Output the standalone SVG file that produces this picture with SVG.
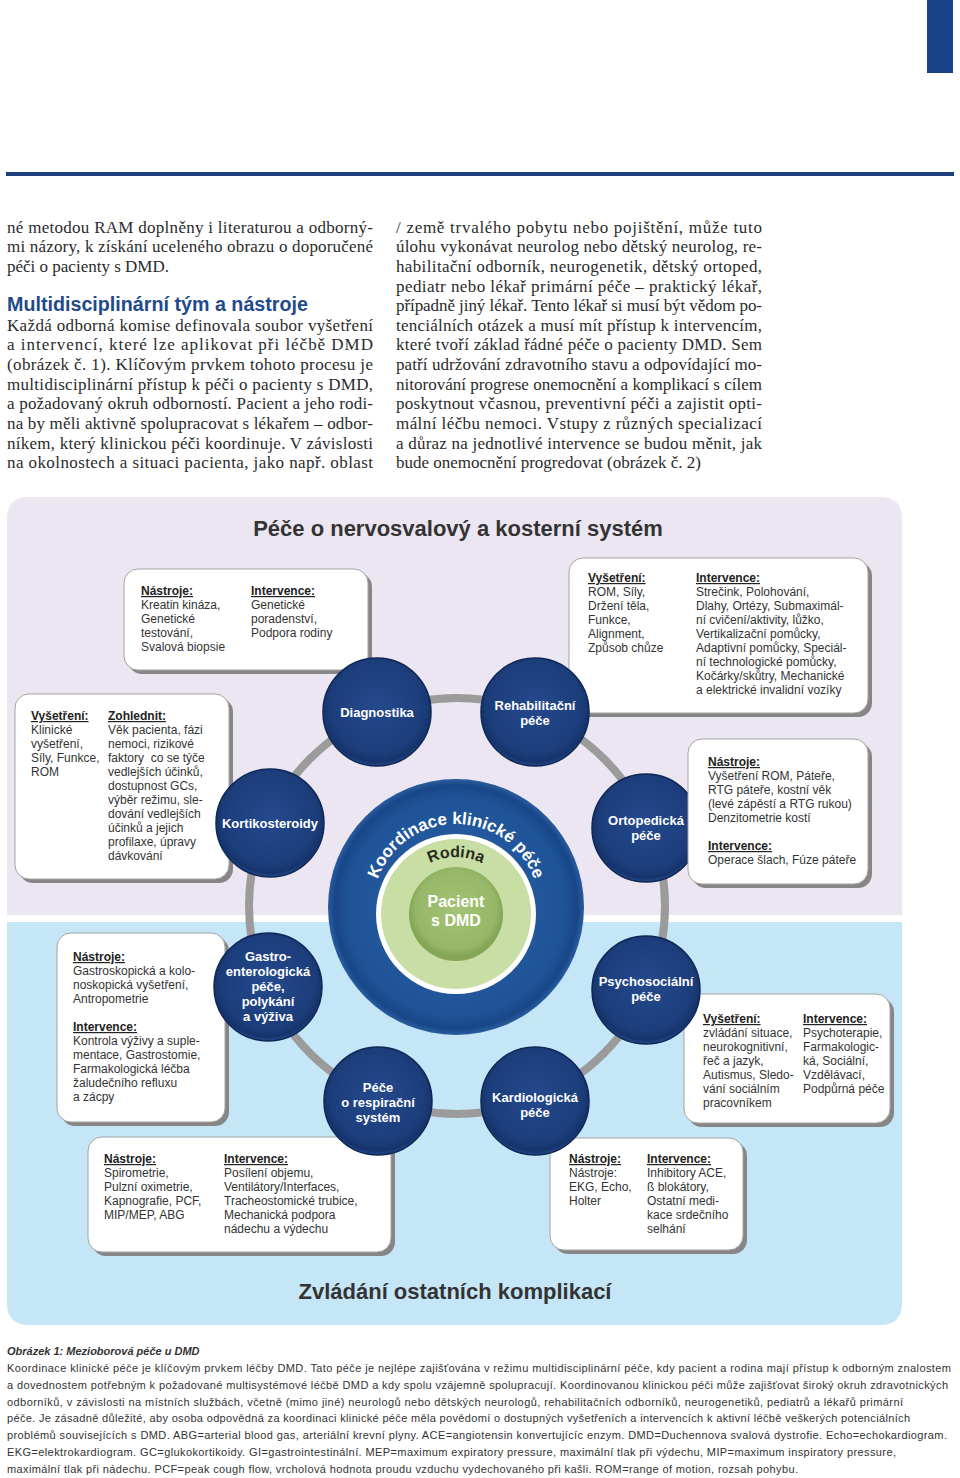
<svg xmlns="http://www.w3.org/2000/svg" width="960" height="1478" viewBox="0 0 960 1478">
<defs>
<style>
.body{font-family:"Liberation Serif",serif;font-size:17px;fill:#2b2b2b}
.hdg{font-family:"Liberation Sans",sans-serif;font-weight:bold;fill:#1f4a8c}
.ttl{font-family:"Liberation Sans",sans-serif;font-weight:bold;font-size:22px;fill:#333;text-anchor:middle}
.bx{fill:#fff;stroke:#a3a3a3;stroke-width:1}
.sh{fill:#868686}
.t{font-family:"Liberation Sans",sans-serif;font-size:12px;fill:#333}
.hd{font-weight:bold;text-decoration:underline;fill:#222}
.ct{font-family:"Liberation Sans",sans-serif;font-weight:bold;font-size:13px;fill:#fff;text-anchor:middle}
.nc{fill:url(#navy);stroke:#0e2756;stroke-width:1.5}
.cap{font-family:"Liberation Sans",sans-serif;font-size:11px;fill:#333}
.ring{fill:none;stroke:#9b9b9b;stroke-width:8}
</style>
<radialGradient id="navy" cx="50%" cy="45%" r="55%">
<stop offset="0" stop-color="#24498d"/>
<stop offset="0.8" stop-color="#1c3d7a"/>
<stop offset="0.93" stop-color="#15336b"/>
<stop offset="1" stop-color="#244a8a"/>
</radialGradient>
<radialGradient id="bigblue" cx="50%" cy="50%" r="50%">
<stop offset="0" stop-color="#2a62a6"/>
<stop offset="0.85" stop-color="#1f5397"/>
<stop offset="0.95" stop-color="#184788"/>
<stop offset="1" stop-color="#2a5c9e"/>
</radialGradient>
<radialGradient id="pgreen" cx="50%" cy="45%" r="50%">
<stop offset="0" stop-color="#a3c275"/>
<stop offset="0.85" stop-color="#97b768"/>
<stop offset="1" stop-color="#86a657"/>
</radialGradient>
<path id="arcK" d="M 384.1 948.5 A 83 83 0 1 1 527.9 948.5"/>
<path id="arcR" d="M 406.6 942.5 A 57 57 0 1 1 505.4 942.5"/>
</defs>

<rect x="0" y="0" width="960" height="1478" fill="#fff"/>
<rect x="927" y="0" width="26" height="73" fill="#1a4289"/>
<rect x="6" y="172" width="948" height="4" fill="#1f3f7f"/>

<g id="article-text">
<text class="body" x="7" y="232.5" textLength="366" lengthAdjust="spacing">né metodou RAM doplněny i literaturou a odborný-</text>
<text class="body" x="7" y="252.2" textLength="366" lengthAdjust="spacing">mi názory, k získání uceleného obrazu o doporučené</text>
<text class="body" x="7" y="271.8">péči o pacienty s DMD.</text>
<text class="hdg" x="7" y="311" font-size="19.5" textLength="301" lengthAdjust="spacingAndGlyphs">Multidisciplinární tým a nástroje</text>
<text class="body" x="7" y="330.8" textLength="366" lengthAdjust="spacing">Každá odborná komise definovala soubor vyšetření</text>
<text class="body" x="7" y="350.4" textLength="366" lengthAdjust="spacing">a intervencí, které lze aplikovat při léčbě DMD</text>
<text class="body" x="7" y="370.1" textLength="366" lengthAdjust="spacing">(obrázek č. 1). Klíčovým prvkem tohoto procesu je</text>
<text class="body" x="7" y="389.7" textLength="366" lengthAdjust="spacing">multidisciplinární přístup k péči o pacienty s DMD,</text>
<text class="body" x="7" y="409.4" textLength="366" lengthAdjust="spacing">a požadovaný okruh odborností. Pacient a jeho rodi-</text>
<text class="body" x="7" y="429" textLength="366" lengthAdjust="spacing">na by měli aktivně spolupracovat s lékařem – odbor-</text>
<text class="body" x="7" y="448.7" textLength="366" lengthAdjust="spacing">níkem, který klinickou péči koordinuje. V závislosti</text>
<text class="body" x="7" y="468.3" textLength="366" lengthAdjust="spacing">na okolnostech a situaci pacienta, jako např. oblast</text>

<text class="body" x="396" y="232.5" textLength="366" lengthAdjust="spacing">/ země trvalého pobytu nebo pojištění, může tuto</text>
<text class="body" x="396" y="252.2" textLength="366" lengthAdjust="spacing">úlohu vykonávat neurolog nebo dětský neurolog, re-</text>
<text class="body" x="396" y="271.8" textLength="366" lengthAdjust="spacing">habilitační odborník, neurogenetik, dětský ortoped,</text>
<text class="body" x="396" y="291.5" textLength="366" lengthAdjust="spacing">pediatr nebo lékař primární péče – praktický lékař,</text>
<text class="body" x="396" y="311.1" textLength="366" lengthAdjust="spacing">případně jiný lékař. Tento lékař si musí být vědom po-</text>
<text class="body" x="396" y="330.8" textLength="366" lengthAdjust="spacing">tenciálních otázek a musí mít přístup k intervencím,</text>
<text class="body" x="396" y="350.4" textLength="366" lengthAdjust="spacing">které tvoří základ řádné péče o pacienty DMD. Sem</text>
<text class="body" x="396" y="370.1" textLength="366" lengthAdjust="spacing">patří udržování zdravotního stavu a odpovídající mo-</text>
<text class="body" x="396" y="389.7" textLength="366" lengthAdjust="spacing">nitorování progrese onemocnění a komplikací s cílem</text>
<text class="body" x="396" y="409.4" textLength="366" lengthAdjust="spacing">poskytnout včasnou, preventivní péči a zajistit opti-</text>
<text class="body" x="396" y="429" textLength="366" lengthAdjust="spacing">mální léčbu nemoci. Vstupy z různých specializací</text>
<text class="body" x="396" y="448.7" textLength="366" lengthAdjust="spacing">a důraz na jednotlivé intervence se budou měnit, jak</text>
<text class="body" x="396" y="468.3">bude onemocnění progredovat (obrázek č. 2)</text>
</g>

<g id="backgrounds">
<path d="M7 915 V519 Q7 497 29 497 H880 Q902 497 902 519 V915 Z" fill="#ebe6f1"/>
<path d="M7 922 H902 V1303 Q902 1325 880 1325 H29 Q7 1325 7 1303 Z" fill="#c5e6f7"/>
<text class="ttl" x="458" y="536">Péče o nervosvalový a kosterní systém</text>
<text class="ttl" x="455" y="1299">Zvládání ostatních komplikací</text>
</g>

<g id="connectors">
<circle class="ring" cx="457" cy="906" r="208"/>
</g>

<g id="center">
<circle cx="456" cy="907" r="128" fill="url(#bigblue)"/>
<circle cx="456" cy="914" r="80" fill="#fff"/>
<circle cx="456" cy="914" r="75" fill="#c8dea5"/>
<circle cx="456" cy="914" r="47" fill="url(#pgreen)"/>
<text font-family="Liberation Sans, sans-serif" font-weight="bold" font-size="17" fill="#fff" text-anchor="middle"><textPath href="#arcK" startOffset="50%">Koordinace klinické péče</textPath></text>
<text font-family="Liberation Sans, sans-serif" font-weight="bold" font-size="16" fill="#2a2a20" text-anchor="middle"><textPath href="#arcR" startOffset="50%">Rodina</textPath></text>
<text font-family="Liberation Sans, sans-serif" font-weight="bold" font-size="16" fill="#fff" text-anchor="middle" x="456" y="907">Pacient</text>
<text font-family="Liberation Sans, sans-serif" font-weight="bold" font-size="16" fill="#fff" text-anchor="middle" x="456" y="926">s DMD</text>
</g>

<g id="diagnostika">
<rect class="sh" x="128" y="573" width="244" height="101" rx="14"/>
<rect class="bx" x="124" y="569" width="244" height="101" rx="14"/>
<text class="t" x="141" y="595"><tspan class="hd">Nástroje:</tspan><tspan x="141" dy="14">Kreatin kináza,</tspan><tspan x="141" dy="14">Genetické</tspan><tspan x="141" dy="14">testování,</tspan><tspan x="141" dy="14">Svalová biopsie</tspan></text>
<text class="t" x="251" y="595"><tspan class="hd">Intervence:</tspan><tspan x="251" dy="14">Genetické</tspan><tspan x="251" dy="14">poradenství,</tspan><tspan x="251" dy="14">Podpora rodiny</tspan></text>
<circle class="nc" cx="377" cy="712" r="54"/>
<text class="ct" x="377" y="716.5">Diagnostika</text>
</g>

<g id="rehabilitacni-pece">
<rect class="sh" x="573" y="562" width="299" height="155" rx="14"/>
<rect class="bx" x="569" y="558" width="299" height="155" rx="14"/>
<text class="t" x="588" y="582"><tspan class="hd">Vyšetření:</tspan><tspan x="588" dy="14">ROM, Síly,</tspan><tspan x="588" dy="14">Držení těla,</tspan><tspan x="588" dy="14">Funkce,</tspan><tspan x="588" dy="14">Alignment,</tspan><tspan x="588" dy="14">Způsob chůze</tspan></text>
<text class="t" x="696" y="582"><tspan class="hd">Intervence:</tspan><tspan x="696" dy="14">Strečink, Polohování,</tspan><tspan x="696" dy="14">Dlahy, Ortézy, Submaximál-</tspan><tspan x="696" dy="14">ní cvičení/aktivity, lůžko,</tspan><tspan x="696" dy="14">Vertikalizační pomůcky,</tspan><tspan x="696" dy="14">Adaptivní pomůcky, Speciál-</tspan><tspan x="696" dy="14">ní technologické pomůcky,</tspan><tspan x="696" dy="14">Kočárky/skůtry, Mechanické</tspan><tspan x="696" dy="14">a elektrické invalidní vozíky</tspan></text>
<circle class="nc" cx="535" cy="712" r="54"/>
<text class="ct" x="535" y="710">Rehabilitační</text>
<text class="ct" x="535" y="725">péče</text>
</g>

<g id="kortikosteroidy">
<rect class="sh" x="19" y="698" width="214" height="185" rx="14"/>
<rect class="bx" x="15" y="694" width="214" height="185" rx="14"/>
<text class="t" x="31" y="720"><tspan class="hd">Vyšetření:</tspan><tspan x="31" dy="14">Klinické</tspan><tspan x="31" dy="14">vyšetření,</tspan><tspan x="31" dy="14">Síly, Funkce,</tspan><tspan x="31" dy="14">ROM</tspan></text>
<text class="t" x="108" y="720"><tspan class="hd">Zohlednit:</tspan><tspan x="108" dy="14">Věk pacienta, fázi</tspan><tspan x="108" dy="14">nemoci, rizikové</tspan><tspan x="108" dy="14" xml:space="preserve">faktory  co se týče</tspan><tspan x="108" dy="14">vedlejších účinků,</tspan><tspan x="108" dy="14">dostupnost GCs,</tspan><tspan x="108" dy="14">výběr režimu, sle-</tspan><tspan x="108" dy="14">dování vedlejších</tspan><tspan x="108" dy="14">účinků a jejich</tspan><tspan x="108" dy="14">profilaxe, úpravy</tspan><tspan x="108" dy="14">dávkování</tspan></text>
<circle class="nc" cx="270" cy="823" r="54"/>
<text class="ct" x="270" y="827.5">Kortikosteroidy</text>
</g>

<g id="ortopedicka-pece">
<circle class="nc" cx="646" cy="828" r="54"/>
<text class="ct" x="646" y="825">Ortopedická</text>
<text class="ct" x="646" y="840">péče</text>
<rect class="sh" x="692" y="743" width="180" height="145" rx="14"/>
<rect class="bx" x="688" y="739" width="180" height="145" rx="14"/>
<text class="t" x="708" y="766"><tspan class="hd">Nástroje:</tspan><tspan x="708" dy="14">Vyšetření ROM, Páteře,</tspan><tspan x="708" dy="14">RTG páteře, kostní věk</tspan><tspan x="708" dy="14">(levé zápěstí a RTG rukou)</tspan><tspan x="708" dy="14">Denzitometrie kostí</tspan><tspan class="hd" x="708" dy="28">Intervence:</tspan><tspan x="708" dy="14">Operace šlach, Fúze páteře</tspan></text>
</g>

<g id="gastroenterologicka-pece">
<rect class="sh" x="61" y="937" width="168" height="189" rx="14"/>
<rect class="bx" x="57" y="933" width="168" height="189" rx="14"/>
<text class="t" x="73" y="961"><tspan class="hd">Nástroje:</tspan><tspan x="73" dy="14">Gastroskopická a kolo-</tspan><tspan x="73" dy="14">noskopická vyšetření,</tspan><tspan x="73" dy="14">Antropometrie</tspan><tspan class="hd" x="73" dy="28">Intervence:</tspan><tspan x="73" dy="14">Kontrola výživy a suple-</tspan><tspan x="73" dy="14">mentace, Gastrostomie,</tspan><tspan x="73" dy="14">Farmakologická léčba</tspan><tspan x="73" dy="14">žaludečního refluxu</tspan><tspan x="73" dy="14">a zácpy</tspan></text>
<circle class="nc" cx="268" cy="987" r="54"/>
<text class="ct" x="268" y="961">Gastro-</text>
<text class="ct" x="268" y="976">enterologická</text>
<text class="ct" x="268" y="991">péče,</text>
<text class="ct" x="268" y="1006">polykání</text>
<text class="ct" x="268" y="1021">a výživa</text>
</g>

<g id="psychosocialni-pece">
<rect class="sh" x="688" y="998" width="206" height="129" rx="14"/>
<rect class="bx" x="684" y="994" width="206" height="129" rx="14"/>
<text class="t" x="703" y="1023"><tspan class="hd">Vyšetření:</tspan><tspan x="703" dy="14">zvládání situace,</tspan><tspan x="703" dy="14">neurokognitivní,</tspan><tspan x="703" dy="14">řeč a jazyk,</tspan><tspan x="703" dy="14">Autismus, Sledo-</tspan><tspan x="703" dy="14">vání sociálním</tspan><tspan x="703" dy="14">pracovníkem</tspan></text>
<text class="t" x="803" y="1023"><tspan class="hd">Intervence:</tspan><tspan x="803" dy="14">Psychoterapie,</tspan><tspan x="803" dy="14">Farmakologic-</tspan><tspan x="803" dy="14">ká, Sociální,</tspan><tspan x="803" dy="14">Vzdělávací,</tspan><tspan x="803" dy="14">Podpůrná péče</tspan></text>
<circle class="nc" cx="646" cy="990" r="54"/>
<text class="ct" x="646" y="986">Psychosociální</text>
<text class="ct" x="646" y="1001">péče</text>
</g>

<g id="respiracni-system">
<rect class="sh" x="92" y="1141" width="303" height="115" rx="14"/>
<rect class="bx" x="88" y="1137" width="303" height="115" rx="14"/>
<text class="t" x="104" y="1163"><tspan class="hd">Nástroje:</tspan><tspan x="104" dy="14">Spirometrie,</tspan><tspan x="104" dy="14">Pulzní oximetrie,</tspan><tspan x="104" dy="14">Kapnografie, PCF,</tspan><tspan x="104" dy="14">MIP/MEP, ABG</tspan></text>
<text class="t" x="224" y="1163"><tspan class="hd">Intervence:</tspan><tspan x="224" dy="14">Posílení objemu,</tspan><tspan x="224" dy="14">Ventilátory/Interfaces,</tspan><tspan x="224" dy="14">Tracheostomické trubice,</tspan><tspan x="224" dy="14">Mechanická podpora</tspan><tspan x="224" dy="14">nádechu a výdechu</tspan></text>
<circle class="nc" cx="378" cy="1101" r="54"/>
<text class="ct" x="378" y="1092">Péče</text>
<text class="ct" x="378" y="1107">o respirační</text>
<text class="ct" x="378" y="1122">systém</text>
</g>

<g id="kardiologicka-pece">
<rect class="sh" x="554" y="1142" width="193" height="112" rx="14"/>
<rect class="bx" x="550" y="1138" width="193" height="112" rx="14"/>
<text class="t" x="569" y="1163"><tspan class="hd">Nástroje:</tspan><tspan x="569" dy="14">Nástroje:</tspan><tspan x="569" dy="14">EKG, Echo,</tspan><tspan x="569" dy="14">Holter</tspan></text>
<text class="t" x="647" y="1163"><tspan class="hd">Intervence:</tspan><tspan x="647" dy="14">Inhibitory ACE,</tspan><tspan x="647" dy="14">ß blokátory,</tspan><tspan x="647" dy="14">Ostatní medi-</tspan><tspan x="647" dy="14">kace srdečního</tspan><tspan x="647" dy="14">selhání</tspan></text>
<circle class="nc" cx="535" cy="1101" r="54"/>
<text class="ct" x="535" y="1102">Kardiologická</text>
<text class="ct" x="535" y="1117">péče</text>
</g>

<g id="caption">
<text class="cap" x="7" y="1355" font-weight="bold" font-style="italic" font-size="11.5">Obrázek 1: Mezioborová péče u DMD</text>
<text class="cap" x="7" y="1372" textLength="944" lengthAdjust="spacing">Koordinace klinické péče je klíčovým prvkem léčby DMD. Tato péče je nejlépe zajišťována v režimu multidisciplinární péče, kdy pacient a rodina mají přístup k odborným znalostem</text>
<text class="cap" x="7" y="1388.8" textLength="941" lengthAdjust="spacing">a dovednostem potřebným k požadované multisystémové léčbě DMD a kdy spolu vzájemně spolupracují. Koordinovanou klinickou péči může zajišťovat široký okruh zdravotnických</text>
<text class="cap" x="7" y="1405.5" textLength="896" lengthAdjust="spacing">odborníků, v závislosti na místních službách, včetně (mimo jiné) neurologů nebo dětských neurologů, rehabilitačních odborníků, neurogenetiků, pediatrů a lékařů primární</text>
<text class="cap" x="7" y="1422.3" textLength="903" lengthAdjust="spacing">péče. Je zásadně důležité, aby osoba odpovědná za koordinaci klinické péče měla povědomí o dostupných vyšetřeních a intervencích k aktivní léčbě veškerých potenciálních</text>
<text class="cap" x="7" y="1439" textLength="940" lengthAdjust="spacing">problémů souvisejících s DMD. ABG=arterial blood gas, arteriální krevní plyny. ACE=angiotensin konvertujícíc enzym. DMD=Duchennova svalová dystrofie. Echo=echokardiogram.</text>
<text class="cap" x="7" y="1455.8" textLength="889" lengthAdjust="spacing">EKG=elektrokardiogram. GC=glukokortikoidy. GI=gastrointestinální. MEP=maximum expiratory pressure, maximální tlak při výdechu, MIP=maximum inspiratory pressure,</text>
<text class="cap" x="7" y="1472.5" textLength="791" lengthAdjust="spacing">maximální tlak při nádechu. PCF=peak cough flow, vrcholová hodnota proudu vzduchu vydechovaného při kašli. ROM=range of motion, rozsah pohybu.</text>
</g>
</svg>
